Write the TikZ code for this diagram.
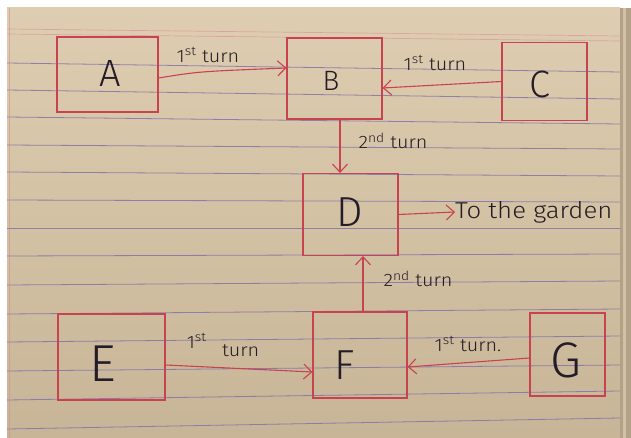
\documentclass[tikz,border=0pt]{standalone}
\usepackage{fontspec}
\setmainfont{Fira Sans Light}
\usetikzlibrary{arrows.meta}
\definecolor{paperhi}{HTML}{DECDB0}
\definecolor{paperlo}{HTML}{C8B598}
\definecolor{pageedge}{HTML}{B3A287}
\definecolor{rulecol}{HTML}{7E6EA8}
\definecolor{margincol}{HTML}{D98C95}
\definecolor{pen}{HTML}{C8424F}
\definecolor{ink}{HTML}{241C26}
\begin{document}
\begin{tikzpicture}[x=1pt,y=-1pt,
  box/.style={draw=pen, line width=1.1pt, rectangle, inner sep=0pt},
  letter/.style={text=ink, inner sep=0pt, font=\fontsize{#1}{#1}\selectfont},
  lab/.style={text=ink, inner sep=1pt, xscale=1.1, font=\fontsize{18}{18}\selectfont},
  conn/.style={draw=pen, line width=1.1pt, line cap=round,
    -{Straight Barb[length=8pt,width=15pt,line width=1.1pt]}},
  rule/.style={draw=rulecol, line width=0.8pt, opacity=0.8},
  margin/.style={draw=margincol, line width=0.7pt, opacity=0.6}]
\useasboundingbox (0,0) rectangle (631,438);
% photo surround and the notebook page
\fill[white] (0,0) rectangle (631,438);
\shade[top color=paperhi, bottom color=paperlo] (7,8) rectangle (620,438);
\fill[pageedge] (620,8) rectangle (631,438);
\fill[paperhi!70!pageedge] (623,8) rectangle (626,438);
% ruled lines and margins
\foreach \l/\r in {63/72, 90/99, 117/124, 145/149, 172/176, 200/202, 228/228,
                   256/254, 285/281, 314/309, 342/336, 371/365, 400/391, 429/418}
  \draw[rule] (7,\l) -- (620,\r);
\draw[margin] (7,29) -- (620,36);
\draw[margin] (7,34) -- (620,41);
\draw[margin] (9,8) -- (9,438);

% boxes
\node[box, minimum width=101pt, minimum height=75pt] (A) at (107.5,74.5) {};
\node[box, minimum width=95pt,  minimum height=81pt] (B) at (334.5,78.5) {};
\node[box, minimum width=85pt,  minimum height=78pt] (C) at (544.5,81.5) {};
\node[box, minimum width=95pt,  minimum height=82pt] (D) at (350.5,214.5) {};
\node[box, minimum width=107pt, minimum height=86pt] (E) at (111.5,357) {};
\node[box, minimum width=94pt,  minimum height=86pt] (F) at (360,355) {};
\node[box, minimum width=75pt,  minimum height=83pt] (G) at (567.5,354.5) {};

% box letters
\node[letter=38] (At) at (110,73) {A};
\node[letter=28] (Bt) at (331,81) {B};
\node[letter=38] (Ct) at (540,84) {C};
\node[letter=42] (Dt) at (350,212) {D};
\node[letter=52] (Et) at (103,364) {E};
\node[letter=42] (Ft) at (345,365) {F};
\node[letter=50] (Gt) at (566,360) {G};

% exit text
\node[text=ink, inner sep=0pt, anchor=west, xscale=1.12, font=\fontsize{23}{23}\selectfont]
  (garden) at (455,212) {To the garden};

% connectors
\draw[conn] ([yshift=-3.5pt]A.east) .. controls ([xshift=40pt,yshift=3pt]A.east) .. ([yshift=10.5pt]B.west);
\draw[conn] (C.west) -- ([yshift=-9.5pt]B.east);
\draw[conn] ([xshift=5.5pt]B.south) -- ([xshift=5.5pt]B.south |- D.north);
\draw[conn] ([xshift=3pt]F.north) -- ([xshift=3pt]F.north |- D.south);
\draw[conn] (D.east) -- (garden.west);
\draw[conn] ([yshift=-8pt]E.east) -- ([yshift=-17pt]F.west);
\draw[conn] ([yshift=-3.5pt]G.west) -- ([yshift=-12pt]F.east);

% connector labels
\node[lab] (lAB) at (208,55) {1\textsuperscript{st} turn};
\node[lab] (lCB) at (435,63) {1\textsuperscript{st} turn};
\node[lab] (lBD) at (393,141) {2\textsuperscript{nd} turn};
\node[lab] (lFD) at (418,279) {2\textsuperscript{nd} turn};
\node[lab] (lEF) at (223,345) {1\textsuperscript{st}\hspace{14pt}\raisebox{-8pt}{turn}};
\node[lab] (lGF) at (468,344) {1\textsuperscript{st} turn.};
\end{tikzpicture}
\end{document}
